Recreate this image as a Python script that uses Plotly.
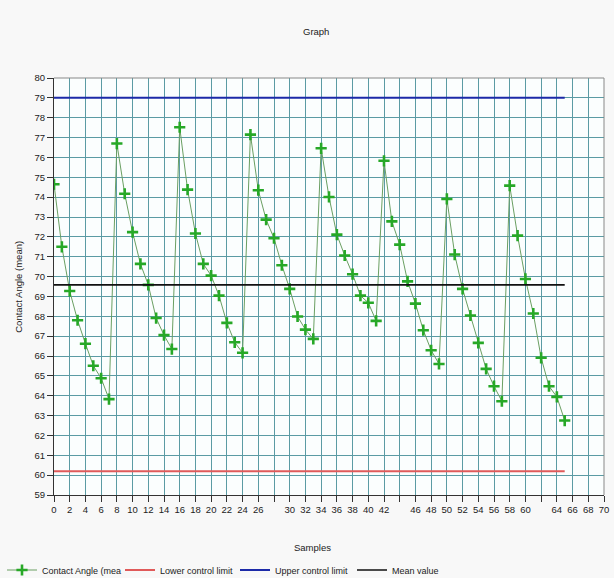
import plotly.graph_objects as go

# Sample index and mean contact angle per sample
samples = list(range(66))
contact_angle = [
    74.65, 71.5, 69.27, 67.8, 66.62, 65.51, 64.88, 63.83,
    76.7, 74.17, 72.24, 70.64, 69.58, 67.91, 67.05, 66.35,
    77.52, 74.38, 72.17, 70.64, 70.05, 69.04, 67.67, 66.69, 66.16,
    77.15, 74.35, 72.87, 71.93, 70.57, 69.38, 67.99, 67.33, 66.86,
    76.46, 74.01, 72.11, 71.06, 70.12, 69.04, 68.68, 67.77,
    75.83, 72.78, 71.61, 69.76, 68.64, 67.3, 66.29, 65.6,
    73.91, 71.11, 69.38, 68.04, 66.66, 65.35, 64.48, 63.72,
    74.58, 72.06, 69.88, 68.14, 65.91, 64.48, 63.94, 62.75,
]

# Control chart reference levels
upper_control_limit = 79.0
lower_control_limit = 60.2
mean_value = 69.58

# Axis ticks
x_tick_values = list(range(0, 71, 2))
x_tick_labels = ["" if v in (28, 44, 62) else str(v) for v in x_tick_values]
y_tick_values = list(range(59, 81))

limit_x = [samples[0], samples[-1]]

fig = go.Figure()

fig.add_trace(go.Scatter(
    x=samples, y=contact_angle, mode="lines+markers",
    name="Contact Angle (mea", legend="legend",
    line=dict(color="#6a9f62", width=1),
    marker=dict(symbol="cross-thin", size=8, color="#27a827",
                line=dict(color="#27a827", width=2.6)),
))
fig.add_trace(go.Scatter(
    x=limit_x, y=[lower_control_limit] * 2, mode="lines",
    name="Lower control limit", legend="legend2",
    line=dict(color="#e05a5a", width=2),
))
fig.add_trace(go.Scatter(
    x=limit_x, y=[upper_control_limit] * 2, mode="lines",
    name="Upper control limit", legend="legend3",
    line=dict(color="#1c2aa8", width=2),
))
fig.add_trace(go.Scatter(
    x=limit_x, y=[mean_value] * 2, mode="lines",
    name="Mean value", legend="legend4",
    line=dict(color="#111111", width=1.6),
))

grid_color = "#5b9ba4"
font_family = "Liberation Sans"


def legend_box(x_px):
    # one legend entry placed along the bottom strip of the page
    return dict(
        orientation="h", xref="container", yref="container",
        x=x_px / 614, xanchor="left", y=8 / 578, yanchor="middle",
        bgcolor="rgba(0,0,0,0)", font=dict(size=9),
        itemwidth=30,
    )


fig.update_layout(
    width=614, height=578,
    margin=dict(l=54, r=10, t=78, b=83, autoexpand=False),
    paper_bgcolor="#f8f8f8",
    plot_bgcolor="#fbfefe",
    font=dict(family=font_family, size=9.5, color="#222222"),
    title=dict(text="Graph", x=0.515, xanchor="center", y=0.946, yanchor="middle",
               font=dict(size=9.5, color="#222222")),
    showlegend=True,
    legend=legend_box(2),
    legend2=legend_box(120),
    legend3=legend_box(235),
    legend4=legend_box(352),
    xaxis=dict(
        range=[0, 70], tickmode="array",
        tickvals=x_tick_values, ticktext=x_tick_labels,
        ticks="outside", ticklen=6, tickcolor="#333333",
        showgrid=True, gridcolor=grid_color, gridwidth=1,
        showline=True, linecolor="#333333", linewidth=1,
        zeroline=False, automargin=False,
        tickfont=dict(size=9.5),
    ),
    yaxis=dict(
        range=[59, 80], tickmode="array", tickvals=y_tick_values,
        ticks="outside", ticklen=6, tickcolor="#333333",
        showgrid=True, gridcolor=grid_color, gridwidth=1,
        showline=True, linecolor="#333333", linewidth=1,
        zeroline=False, automargin=False,
        tickfont=dict(size=9.5),
    ),
    annotations=[
        dict(text="Samples", xref="paper", yref="paper", x=0.47, y=-0.125,
             xanchor="center", yanchor="middle", showarrow=False,
             font=dict(size=9.5)),
        dict(text="Contact Angle (mean)", xref="paper", yref="paper",
             x=-0.065, y=0.5, xanchor="center", yanchor="middle",
             textangle=-90, showarrow=False, font=dict(size=9.5)),
    ],
)

# Light border around the top and right of the plotting area
fig.add_shape(type="line", xref="paper", yref="paper", x0=0, x1=1, y0=1, y1=1,
              line=dict(color="#888888", width=1))
fig.add_shape(type="line", xref="paper", yref="paper", x0=1, x1=1, y0=0, y1=1,
              line=dict(color="#888888", width=1))

fig.write_html("out.html")
